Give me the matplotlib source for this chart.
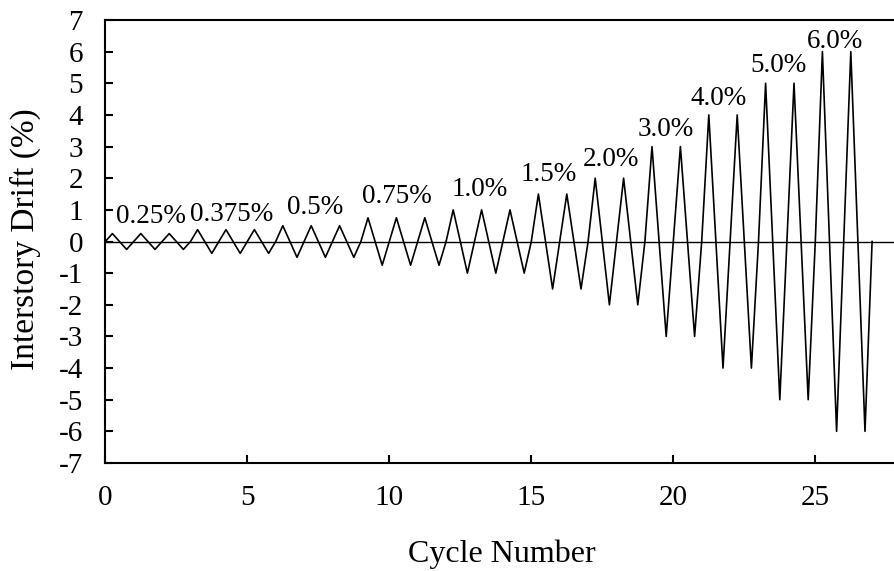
import matplotlib
matplotlib.use("Agg")
import matplotlib.pyplot as plt
import numpy as np

# Loading protocol data
drift_levels = [0.25, 0.375, 0.5, 0.75, 1.0, 1.5, 2.0, 3.0, 4.0, 5.0, 6.0]
cycles_per_level = [3, 3, 3, 3, 3, 2, 2, 2, 2, 2, 2]
level_labels = ["0.25%", "0.375%", "0.5%", "0.75%", "1.0%", "1.5%",
                "2.0%", "3.0%", "4.0%", "5.0%", "6.0%"]
label_x = [1.6, 4.45, 7.4, 10.25, 13.17, 15.6, 17.8, 19.72, 21.6, 23.7, 25.7]
label_y = [0.57, 0.66, 0.88, 1.21, 1.45, 1.92, 2.4, 3.34, 4.3, 5.35, 6.1]

# Build the cyclic waveform from the protocol
xs, ys = [0.0], [0.0]
t = 0.0
for amp, n in zip(drift_levels, cycles_per_level):
    for _ in range(n):
        xs += [t + 0.25, t + 0.5, t + 0.75, t + 1.0]
        ys += [amp, 0.0, -amp, 0.0]
        t += 1.0

plt.rcParams['font.family'] = ['Liberation Serif', 'DejaVu Serif']
plt.rcParams['axes.unicode_minus'] = False

W, H = 894, 571
fig = plt.figure(figsize=(W / 100, H / 100), dpi=100)
left_px, right_px, top_px, bot_px = 105.3, 900.5, 20, 463
ax = fig.add_axes([left_px / W, (H - bot_px) / H,
                   (right_px - left_px) / W, (bot_px - top_px) / H])

ax.plot(xs, ys, color='black', lw=1.2, zorder=3)
ax.axhline(0, color='black', lw=1.0, zorder=2)

for lab, lx, ly in zip(level_labels, label_x, label_y):
    ax.text(lx, ly, lab, ha='center', va='baseline', fontsize=19.5)

ax.set_xlim(0, 28)
ax.set_ylim(-7, 7)
ax.set_xticks([0, 5, 10, 15, 20, 25])
ax.set_yticks(np.arange(-7, 8, 1))
ax.tick_params(axis='both', direction='in', length=6, width=1.5,
               labelsize=21, top=False, right=False)
ax.tick_params(axis='x', pad=16)
ax.tick_params(axis='y', pad=16)
for s in ax.spines.values():
    s.set_linewidth(1.5)
ax.spines['right'].set_visible(False)

ax.set_xlabel("Cycle Number", fontsize=23)
ax.set_ylabel("Interstory Drift (%)", fontsize=24)
ax.xaxis.set_label_coords((502 - left_px) / (right_px - left_px),
                          (bot_px - 562) / (bot_px - top_px))
ax.xaxis.label.set_va('baseline')
ax.yaxis.set_label_coords((25 - left_px) / (right_px - left_px),
                          (bot_px - 239) / (bot_px - top_px))
ax.yaxis.label.set_va('center')

fig.savefig("out.png", dpi=100)
